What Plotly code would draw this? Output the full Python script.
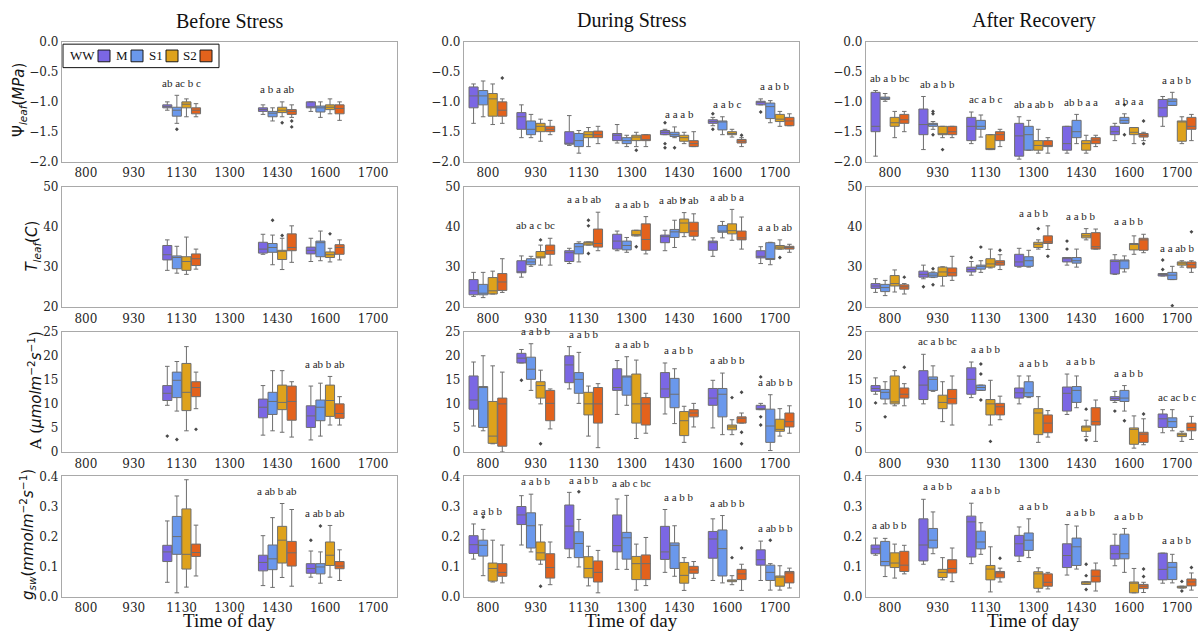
import plotly.graph_objects as go

W, H = 1198, 636

TIMES = ["800", "930", "1130", "1300", "1430", "1600", "1700"]
GROUPS = ["WW", "M", "S1", "S2"]
PHASES = ["Before Stress", "During Stress", "After Recovery"]
COLORS = {"WW": "#7b67e4", "M": "#6a98ec", "S1": "#dea21c", "S2": "#e3621c"}

# Five-number summaries per time of day:
# (lower whisker, Q1, median, Q3, upper whisker); None = not measured.

# ---- Leaf water potential (MPa) ----
PSI_BEFORE = {
    "WW": [None, None, (-1.14, -1.10, -1.08, -1.05, -1.00), None, (-1.21, -1.16, -1.13, -1.10, -1.05), (-1.16, -1.10, -1.09, -1.00, -1.00), None],
    "M":  [None, None, (-1.36, -1.24, -1.14, -1.09, -0.89), None, (-1.32, -1.25, -1.19, -1.16, -1.10), (-1.26, -1.17, -1.10, -1.07, -1.00), None],
    "S1": [None, None, (-1.25, -1.10, -1.04, -1.00, -0.95), None, (-1.25, -1.18, -1.14, -1.09, -1.00), (-1.20, -1.13, -1.09, -1.05, -0.95), None],
    "S2": [None, None, (-1.25, -1.20, -1.14, -1.10, -1.03), None, (-1.26, -1.21, -1.16, -1.13, -1.05), (-1.31, -1.20, -1.11, -1.05, -1.00), None],
}
PSI_BEFORE_OUT = [(2, "M", -1.46), (4, "S1", -1.35), (4, "S2", -1.32), (4, "S2", -1.42)]
PSI_BEFORE_LET = [None, None, "ab ac b c", None, "a b a ab", None, None]

PSI_DURING = {
    "WW": [(-1.36, -1.10, -0.90, -0.75, -0.70), (-1.60, -1.46, -1.25, -1.18, -1.05), (-1.73, -1.71, -1.70, -1.50, -1.23), (-1.69, -1.65, -1.56, -1.53, -1.38), (-1.55, -1.55, -1.51, -1.48, -1.46), (-1.40, -1.36, -1.33, -1.30, -1.26), (-1.05, -1.05, -1.00, -0.99, -0.95)],
    "M":  [(-1.25, -1.05, -0.90, -0.81, -0.65), (-1.60, -1.55, -1.46, -1.32, -1.21), (-1.86, -1.75, -1.65, -1.53, -1.48), (-1.75, -1.70, -1.65, -1.60, -1.56), (-1.60, -1.58, -1.55, -1.51, -1.42), (-1.55, -1.47, -1.33, -1.32, -1.25), (-1.35, -1.28, -1.08, -1.02, -0.98)],
    "S1": [(-1.38, -1.24, -0.95, -0.86, -0.70), (-1.66, -1.50, -1.41, -1.36, -1.29), (-1.75, -1.60, -1.55, -1.50, -1.43), (-1.75, -1.65, -1.59, -1.56, -1.51), (-1.70, -1.66, -1.60, -1.56, -1.51), (-1.59, -1.55, -1.53, -1.50, -1.46), (-1.41, -1.33, -1.29, -1.21, -1.16)],
    "S2": [(-1.36, -1.24, -1.14, -1.00, -0.95), (-1.55, -1.50, -1.46, -1.41, -1.31), (-1.70, -1.60, -1.55, -1.49, -1.41), (-1.75, -1.65, -1.65, -1.55, -1.55), (-1.75, -1.75, -1.70, -1.65, -1.50), (-1.75, -1.69, -1.66, -1.63, -1.60), (-1.40, -1.40, -1.32, -1.26, -1.20)],
}
PSI_DURING_OUT = [(0, "S2", -0.60), (3, "S1", -1.81), (4, "WW", -1.35), (4, "WW", -1.70), (4, "WW", -1.77),
                  (4, "M", -1.77), (5, "WW", -1.20), (5, "WW", -1.46), (5, "S2", -1.56), (6, "WW", -1.17)]
PSI_DURING_LET = [None, None, None, None, "a a a b", "a a b c", "a a b b"]

PSI_AFTER = {
    "WW": [(-1.91, -1.50, -1.41, -0.84, -0.81), (-1.80, -1.55, -1.38, -1.12, -0.91), (-1.70, -1.65, -1.41, -1.26, -1.17), (-1.96, -1.91, -1.57, -1.36, -1.25), (-1.86, -1.81, -1.70, -1.41, -1.41), (-1.65, -1.55, -1.50, -1.41, -1.36), (-1.41, -1.25, -1.10, -0.96, -0.91)],
    "M":  [(-0.99, -0.96, -0.94, -0.92, -0.86), (-1.46, -1.41, -1.37, -1.36, -1.33), (-1.59, -1.46, -1.41, -1.31, -1.22), (-1.81, -1.81, -1.55, -1.41, -1.31), (-1.70, -1.60, -1.50, -1.31, -1.21), (-1.36, -1.36, -1.31, -1.26, -1.20), (-1.06, -1.06, -0.99, -0.95, -0.84)],
    "S1": [(-1.60, -1.41, -1.35, -1.26, -1.16), (-1.60, -1.55, -1.55, -1.41, -1.41), (-1.80, -1.80, -1.80, -1.55, -1.55), (-1.86, -1.81, -1.73, -1.65, -1.46), (-1.86, -1.81, -1.70, -1.65, -1.56), (-1.70, -1.55, -1.51, -1.43, -1.43), (-1.70, -1.66, -1.32, -1.32, -1.25)],
    "S2": [(-1.50, -1.36, -1.30, -1.21, -1.16), (-1.60, -1.55, -1.50, -1.41, -1.41), (-1.75, -1.65, -1.55, -1.50, -1.46), (-1.86, -1.75, -1.74, -1.65, -1.60), (-1.75, -1.70, -1.64, -1.60, -1.56), (-1.65, -1.59, -1.56, -1.53, -1.51), (-1.65, -1.46, -1.41, -1.26, -1.21)],
}
PSI_AFTER_OUT = [(1, "M", -1.16), (1, "M", -1.20), (1, "M", -1.55), (1, "S1", -1.80), (5, "M", -1.05),
                 (5, "M", -1.55), (5, "S2", -1.32), (5, "S2", -1.70)]
PSI_AFTER_LET = ["ab a b bc", "ab a b b", "ac a b c", "ab a ab b", "ab b a a", "a b a a", "a a b b"]

# ---- Leaf temperature (C) ----
TLEAF_BEFORE = {
    "WW": [None, None, (29.2, 31.8, 33.1, 35.4, 36.8), None, (33.2, 33.5, 34.5, 36.2, 38.2), (31.4, 33.3, 34.2, 35.0, 37.2), None],
    "M":  [None, None, (28.5, 29.6, 32.4, 32.8, 35.2), None, (30.6, 33.7, 34.9, 35.9, 38.0), (31.6, 32.6, 36.1, 36.5, 39.0), None],
    "S1": [None, None, (28.2, 29.2, 31.4, 32.6, 37.5), None, (29.4, 31.9, 34.1, 34.2, 37.2), (31.3, 32.4, 33.1, 33.8, 34.7), None],
    "S2": [None, None, (29.5, 30.4, 32.1, 33.3, 34.5), None, (31.2, 34.1, 34.9, 38.3, 40.3), (31.8, 33.2, 34.9, 35.6, 36.8), None],
}
TLEAF_BEFORE_OUT = [(4, "M", 41.7), (4, "S1", 37.9), (5, "S1", 38.3)]
TLEAF_BEFORE_LET = [None] * 7

TLEAF_DURING = {
    "WW": [(22.7, 23.1, 24.1, 26.9, 28.7), (27.5, 28.6, 28.8, 31.6, 32.8), (30.9, 31.4, 33.6, 34.1, 34.7), (34.1, 34.5, 36.5, 38.2, 39.0), (34.1, 36.1, 37.6, 38.0, 39.2), (32.7, 34.2, 36.1, 36.5, 37.3), (30.9, 32.3, 32.7, 34.1, 35.1)],
    "M":  [(22.4, 23.1, 23.5, 25.7, 28.7), (30.2, 30.6, 31.3, 32.1, 32.7), (31.3, 33.3, 35.1, 35.9, 36.3), (33.7, 34.3, 35.4, 36.5, 37.4), (34.9, 37.4, 38.8, 39.4, 41.7), (37.3, 38.7, 39.0, 40.4, 41.4), (30.6, 31.9, 32.1, 36.1, 36.2)],
    "S1": [(23.3, 23.3, 24.1, 27.4, 29.0), (30.5, 32.3, 32.4, 33.9, 35.5), (35.5, 35.5, 36.1, 36.3, 36.3), (37.8, 37.8, 38.1, 39.2, 39.2), (37.6, 38.6, 41.0, 42.0, 43.6), (36.7, 38.3, 39.1, 40.8, 44.4), (34.5, 34.5, 35.0, 35.4, 36.8)],
    "S2": [(23.7, 24.2, 26.3, 28.4, 32.1), (30.5, 33.2, 34.1, 35.5, 37.2), (34.1, 35.0, 35.9, 39.5, 43.7), (33.3, 34.2, 36.9, 40.8, 42.6), (36.8, 37.7, 39.0, 41.2, 43.3), (34.5, 36.8, 37.3, 39.0, 42.5), (33.7, 34.5, 34.9, 35.2, 35.7)],
}
TLEAF_DURING_OUT = [(1, "S1", 36.8), (2, "S1", 41.7), (2, "S1", 40.3), (2, "S1", 33.4), (3, "S1", 35.1),
                    (4, "S1", 46.8), (6, "S1", 32.4)]
TLEAF_DURING_LET = [None, "ab a c bc", "a a b ab", "a a ab b", "a ab b ab", "a ab b a", "a a b ab"]

TLEAF_AFTER = {
    "WW": [(23.7, 24.7, 25.3, 25.9, 27.1), (27.1, 27.5, 28.2, 29.0, 30.5), (28.0, 28.8, 29.4, 30.0, 31.4), (30.0, 30.2, 31.3, 33.2, 34.7), (30.5, 31.3, 32.1, 32.4, 32.4), (28.2, 28.3, 31.4, 31.8, 33.1), (27.8, 27.8, 28.2, 28.4, 28.4)],
    "M":  [(22.9, 23.9, 24.9, 25.7, 26.7), (27.4, 27.5, 28.0, 28.6, 28.8), (28.7, 29.5, 30.2, 30.5, 31.6), (30.0, 30.2, 31.6, 32.6, 34.2), (30.0, 31.0, 31.6, 32.4, 34.5), (28.8, 29.6, 31.8, 31.8, 32.8), (26.9, 26.9, 28.0, 28.7, 30.2)],
    "S1": [(23.8, 25.3, 25.9, 27.9, 29.3), (25.3, 27.7, 28.8, 30.0, 30.1), (29.8, 30.0, 30.8, 32.1, 34.5), (34.5, 34.9, 35.7, 36.2, 36.8), (36.8, 37.3, 37.8, 38.4, 39.6), (33.2, 34.3, 35.7, 35.9, 37.8), (30.0, 30.5, 31.0, 31.3, 31.6)],
    "S2": [(23.3, 24.5, 25.1, 25.6, 25.9), (26.7, 27.8, 28.6, 29.8, 32.7), (29.4, 30.5, 31.1, 31.6, 33.1), (34.4, 35.9, 36.3, 37.8, 40.3), (34.5, 34.5, 35.1, 38.6, 39.5), (33.6, 34.2, 36.8, 37.2, 38.2), (28.7, 29.8, 30.6, 31.3, 31.6)],
}
TLEAF_AFTER_OUT = [(0, "S2", 27.5), (1, "WW", 25.1), (1, "M", 29.6), (1, "M", 25.6), (2, "WW", 32.4), (2, "M", 35.0),
                   (2, "S2", 34.2), (3, "S1", 39.6), (3, "S2", 32.7), (4, "WW", 36.5), (4, "WW", 34.5),
                   (6, "WW", 31.8), (6, "WW", 29.4), (6, "M", 20.4), (6, "S2", 38.8)]
TLEAF_AFTER_LET = [None, None, None, "a a b b", "a a b b", "a a b b", "a a ab b"]

# ---- Net assimilation (umol m-2 s-1) ----
A_BEFORE = {
    "WW": [None, None, (9.7, 10.7, 12.2, 13.8, 17.8), None, (3.5, 7.1, 9.3, 11.0, 13.8), (2.5, 5.1, 7.5, 9.6, 13.7), None],
    "M":  [None, None, (8.5, 11.3, 14.9, 16.6, 18.8), None, (4.4, 7.8, 10.5, 12.4, 16.9), (3.3, 6.5, 9.3, 10.8, 14.3), None],
    "S1": [None, None, (4.4, 8.6, 12.4, 18.4, 21.9), None, (4.1, 8.8, 10.3, 13.9, 16.9), (5.6, 7.4, 10.7, 13.9, 15.7), None],
    "S2": [None, None, (9.0, 11.5, 13.4, 14.6, 16.6), None, (3.1, 6.6, 10.5, 13.7, 14.6), (5.6, 7.0, 8.0, 10.0, 11.5), None],
}
A_BEFORE_OUT = [(2, "WW", 3.3), (2, "M", 2.6), (2, "S2", 4.7)]
A_BEFORE_LET = [None, None, None, None, None, "a ab b ab", None]

A_DURING = {
    "WW": [(5.4, 8.9, 10.8, 15.8, 18.7), (18.5, 18.5, 19.5, 20.5, 21.3), (13.1, 14.4, 18.1, 20.0, 21.9), (7.8, 12.8, 13.4, 17.3, 19.0), (7.9, 11.3, 13.1, 16.5, 18.5), (5.0, 9.7, 11.2, 13.2, 14.9), (8.8, 8.8, 9.0, 9.7, 10.1)],
    "M":  [(4.4, 5.1, 13.5, 13.6, 20.0), (12.8, 15.1, 17.2, 19.7, 22.5), (10.1, 12.2, 15.1, 16.5, 20.7), (9.7, 11.8, 15.7, 15.8, 19.8), (5.9, 9.2, 12.0, 15.3, 17.3), (3.6, 7.3, 12.0, 13.2, 16.4), (0.3, 2.0, 5.4, 8.9, 11.9)],
    "S1": [(1.7, 1.8, 3.3, 10.5, 17.9), (10.0, 11.2, 13.8, 14.6, 17.0), (3.3, 7.7, 10.0, 12.4, 13.7), (2.8, 6.0, 10.0, 16.2, 19.1), (2.0, 3.4, 6.5, 8.4, 9.5), (3.6, 4.6, 5.2, 5.6, 6.7), (3.3, 4.3, 4.7, 6.8, 9.0)],
    "S2": [(0.0, 1.2, 10.0, 11.2, 16.6), (4.8, 6.5, 10.1, 12.8, 13.1), (0.9, 6.0, 10.0, 13.4, 14.2), (3.9, 5.6, 10.0, 11.3, 12.2), (5.2, 7.3, 8.1, 8.8, 10.1), (6.0, 6.0, 7.0, 7.3, 8.1), (3.9, 5.2, 6.3, 8.1, 9.6)],
}
A_DURING_OUT = [(1, "WW", 14.9), (1, "S1", 1.7), (5, "S1", 11.3), (5, "S2", 12.4), (5, "S2", 4.1), (5, "S2", 1.7),
                (6, "WW", 15.6), (6, "WW", 7.3), (6, "WW", 5.6)]
A_DURING_LET = [None, "a a b b", "a a b b", "a a ab b", "a a b b", "a ab b b", "a ab b b"]

A_AFTER = {
    "WW": [(12.0, 12.6, 13.2, 13.8, 15.4), (10.0, 10.9, 13.9, 16.9, 20.3), (11.3, 12.0, 15.1, 17.5, 18.7), (10.0, 11.2, 12.3, 13.3, 15.8), (7.8, 8.5, 12.2, 13.5, 16.2), (10.3, 10.7, 11.1, 11.5, 12.6), (4.0, 5.1, 6.9, 7.9, 8.8)],
    "M":  [(10.0, 11.0, 12.4, 13.0, 14.6), (12.6, 12.8, 15.1, 15.6, 17.9), (12.8, 12.8, 13.4, 13.9, 13.9), (11.3, 11.5, 12.3, 14.6, 15.8), (9.2, 10.3, 12.8, 13.6, 15.8), (8.5, 10.5, 11.2, 12.8, 13.8), (4.4, 5.1, 6.3, 7.1, 8.8)],
    "S1": [(9.6, 10.0, 10.4, 15.8, 16.9), (6.3, 9.0, 10.3, 11.8, 14.6), (5.6, 7.7, 10.0, 10.9, 14.9), (2.0, 3.6, 8.1, 9.0, 11.5), (3.2, 4.3, 5.2, 5.4, 6.6), (0.8, 1.6, 4.7, 5.0, 7.5), (2.2, 3.2, 3.6, 3.9, 4.3)],
    "S2": [(9.6, 11.2, 12.0, 13.3, 14.2), (5.6, 10.0, 11.1, 13.0, 15.8), (6.7, 7.7, 9.4, 10.1, 11.6), (3.1, 4.0, 6.0, 7.7, 8.6), (2.2, 5.6, 6.3, 9.2, 10.8), (1.5, 2.0, 3.7, 4.1, 6.9), (2.6, 4.4, 5.1, 6.0, 7.4)],
}
A_AFTER_OUT = [(0, "WW", 10.2), (0, "M", 7.3), (0, "S2", 17.6), (2, "M", 18.3), (2, "M", 16.2), (2, "M", 10.8),
               (2, "S1", 2.2), (4, "S1", 8.9), (4, "S1", 2.5), (5, "WW", 8.5), (5, "M", 6.5), (5, "S2", 7.9)]
A_AFTER_LET = [None, "ac a b bc", "a a b b", "a a b b", "a a b b", "a a b b", "ac ac b c"]

# ---- Stomatal conductance (mmol m-2 s-1) ----
GSW_BEFORE = {
    "WW": [None, None, (0.048, 0.117, 0.149, 0.171, 0.252), None, (0.037, 0.086, 0.114, 0.138, 0.203), (0.065, 0.078, 0.094, 0.110, 0.152), None],
    "M":  [None, None, (0.013, 0.141, 0.200, 0.267, 0.335), None, (0.031, 0.090, 0.126, 0.172, 0.263), (0.045, 0.076, 0.099, 0.110, 0.149), None],
    "S1": [None, None, (0.032, 0.092, 0.141, 0.292, 0.389), None, (0.064, 0.112, 0.188, 0.234, 0.310), (0.065, 0.104, 0.138, 0.182, 0.237), None],
    "S2": [None, None, (0.069, 0.134, 0.147, 0.175, 0.238), None, (0.035, 0.102, 0.146, 0.184, 0.290), (0.054, 0.093, 0.102, 0.117, 0.156), None],
}
GSW_BEFORE_OUT = [(5, "WW", 0.188), (5, "M", 0.235)]
GSW_BEFORE_LET = [None, None, None, None, "a ab b ab", "a ab b ab", None]

GSW_DURING = {
    "WW": [(0.125, 0.144, 0.173, 0.203, 0.242), (0.172, 0.240, 0.272, 0.300, 0.336), (0.130, 0.159, 0.235, 0.305, 0.347), (0.091, 0.149, 0.170, 0.272, 0.325), (0.081, 0.124, 0.149, 0.234, 0.290), (0.054, 0.128, 0.192, 0.217, 0.259), (0.054, 0.105, 0.123, 0.156, 0.185)],
    "M":  [(0.070, 0.135, 0.171, 0.188, 0.224), (0.149, 0.162, 0.236, 0.279, 0.341), (0.099, 0.130, 0.177, 0.216, 0.257), (0.091, 0.125, 0.196, 0.214, 0.337), (0.068, 0.094, 0.171, 0.179, 0.236), (0.046, 0.069, 0.160, 0.222, 0.270), (0.022, 0.054, 0.081, 0.105, 0.110)],
    "S1": [(0.049, 0.052, 0.094, 0.112, 0.188), (0.108, 0.122, 0.146, 0.182, 0.239), (0.036, 0.063, 0.094, 0.133, 0.168), (0.022, 0.057, 0.110, 0.134, 0.175), (0.021, 0.045, 0.071, 0.114, 0.130), (0.040, 0.050, 0.053, 0.056, 0.070), (0.022, 0.035, 0.065, 0.069, 0.103)],
    "S2": [(0.046, 0.068, 0.081, 0.110, 0.172), (0.040, 0.062, 0.097, 0.143, 0.182), (0.013, 0.049, 0.081, 0.119, 0.154), (0.037, 0.057, 0.110, 0.139, 0.197), (0.061, 0.078, 0.089, 0.101, 0.117), (0.021, 0.057, 0.076, 0.091, 0.108), (0.029, 0.046, 0.079, 0.084, 0.095)],
}
GSW_DURING_OUT = [(0, "M", 0.265), (1, "S1", 0.035), (2, "M", 0.349), (5, "S1", 0.130), (5, "S2", 0.162), (6, "M", 0.188)]
GSW_DURING_LET = ["a a b b", "a a b b", "a a b b", "a ab c bc", "a a b b", "a ab b b", "a ab b b"]

GSW_AFTER = {
    "WW": [(0.138, 0.143, 0.159, 0.172, 0.195), (0.108, 0.119, 0.172, 0.259, 0.324), (0.110, 0.132, 0.249, 0.268, 0.311), (0.117, 0.135, 0.176, 0.204, 0.232), (0.072, 0.097, 0.137, 0.176, 0.240), (0.103, 0.125, 0.143, 0.171, 0.208), (0.045, 0.056, 0.091, 0.145, 0.145)],
    "M":  [(0.067, 0.103, 0.117, 0.184, 0.194), (0.143, 0.162, 0.188, 0.227, 0.282), (0.141, 0.159, 0.182, 0.218, 0.246), (0.130, 0.154, 0.188, 0.212, 0.259), (0.092, 0.104, 0.166, 0.195, 0.235), (0.081, 0.126, 0.143, 0.208, 0.227), (0.046, 0.057, 0.098, 0.114, 0.141)],
    "S1": [(0.062, 0.097, 0.112, 0.146, 0.175), (0.056, 0.064, 0.081, 0.091, 0.130), (0.016, 0.056, 0.092, 0.104, 0.166), (0.016, 0.028, 0.076, 0.083, 0.096), (0.041, 0.041, 0.048, 0.050, 0.050), (0.013, 0.013, 0.045, 0.049, 0.094), (0.029, 0.029, 0.032, 0.035, 0.035)],
    "S2": [(0.076, 0.084, 0.105, 0.151, 0.171), (0.050, 0.079, 0.094, 0.123, 0.162), (0.049, 0.063, 0.079, 0.084, 0.095), (0.026, 0.035, 0.048, 0.076, 0.081), (0.019, 0.049, 0.068, 0.089, 0.112), (0.014, 0.027, 0.035, 0.041, 0.048), (0.022, 0.036, 0.049, 0.059, 0.079)],
}
GSW_AFTER_OUT = [(2, "S2", 0.128), (4, "S1", 0.108), (4, "S1", 0.070), (4, "S1", 0.024), (5, "S2", 0.092),
                 (5, "S2", 0.067), (6, "S1", 0.051), (6, "S1", 0.019), (6, "S2", 0.097)]
GSW_AFTER_LET = ["a ab b b", "a a b b", "a a b b", "a a b b", "a a b b", "a a b b", "a a b b"]

ROWS = [
    [(PSI_BEFORE, PSI_BEFORE_OUT, PSI_BEFORE_LET), (PSI_DURING, PSI_DURING_OUT, PSI_DURING_LET), (PSI_AFTER, PSI_AFTER_OUT, PSI_AFTER_LET)],
    [(TLEAF_BEFORE, TLEAF_BEFORE_OUT, TLEAF_BEFORE_LET), (TLEAF_DURING, TLEAF_DURING_OUT, TLEAF_DURING_LET), (TLEAF_AFTER, TLEAF_AFTER_OUT, TLEAF_AFTER_LET)],
    [(A_BEFORE, A_BEFORE_OUT, A_BEFORE_LET), (A_DURING, A_DURING_OUT, A_DURING_LET), (A_AFTER, A_AFTER_OUT, A_AFTER_LET)],
    [(GSW_BEFORE, GSW_BEFORE_OUT, GSW_BEFORE_LET), (GSW_DURING, GSW_DURING_OUT, GSW_DURING_LET), (GSW_AFTER, GSW_AFTER_OUT, GSW_AFTER_LET)],
]

# y-axis settings per row: range, tick step, tick format
Y_AXES = [([-2.0, 0.0], 0.5, ".1f"), ([20, 50], 10, "d"), ([0, 25], 5, "d"), ([0.0, 0.4], 0.1, ".1f")]
Y_TITLES = [
    "Ψ<sub><i>leaf</i></sub>(<i>MPa</i>)",
    "<i>T</i><sub><i>leaf</i></sub>(<i>C</i>)",
    '<span style="font-family:DejaVu Serif">A (</span><i>μmolm</i><sup>−2</sup><i>s</i><sup>−1</sup>)',
    "<i>g</i><sub><i>sw</i></sub>(<i>mmolm</i><sup>−2</sup><i>s</i><sup>−1</sup>)",
]

# ---- page geometry in pixels ----
COL_PX = [(62, 397), (464, 799), (866, 1198)]
COL_FULL_W = 335                      # full panel width (last column runs off the page)
ROW_PX = [(36, 158), (184, 307), (332, 455), (480, 603)]
YTITLE_PX = [(20, 95), (33, 245), (35, 393), (27, 540)]

EDGE = "#6e6e6e"
FRAME = "#a9a9a9"
SERIF = "Liberation Serif, Times New Roman, serif"
TICKFONT = dict(family="DejaVu Serif, serif", size=12, color="#262626")

BOX_SPAN = 0.8
n_g = len(GROUPS)
OFFSETS = [-BOX_SPAN / 2 + BOX_SPAN / n_g * (i + 0.5) for i in range(n_g)]
BOX_W = BOX_SPAN / n_g * 0.95


def px_x(p):
    return p / W


def px_y(p):
    return 1 - p / H


fig = go.Figure()
annotations = []
layout = {}

for r, row in enumerate(ROWS):
    yrange, dtick, fmt = Y_AXES[r]
    span = yrange[1] - yrange[0]
    for c, (data, outliers, letters) in enumerate(row):
        k = r * 3 + c + 1
        xs = "x" if k == 1 else f"x{k}"
        ys = "y" if k == 1 else f"y{k}"

        for gi, g in enumerate(GROUPS):
            pos, lo, q1, med, q3, hi = [], [], [], [], [], []
            for t, stats in enumerate(data[g]):
                if stats is None:
                    continue
                pos.append(t + OFFSETS[gi])
                lo.append(stats[0]); q1.append(stats[1]); med.append(stats[2])
                q3.append(stats[3]); hi.append(stats[4])
            if not pos:
                continue
            fig.add_trace(go.Box(
                x=pos, lowerfence=lo, q1=q1, median=med, q3=q3, upperfence=hi,
                orientation="v", width=BOX_W, whiskerwidth=0.5,
                fillcolor=COLORS[g], line=dict(color=EDGE, width=1),
                boxpoints=False, showlegend=False, hoverinfo="skip",
                xaxis=xs, yaxis=ys, name=g,
            ))

        if outliers:
            fig.add_trace(go.Scatter(
                x=[t + OFFSETS[GROUPS.index(g)] for t, g, v in outliers],
                y=[v for t, g, v in outliers],
                mode="markers",
                marker=dict(symbol="diamond", size=3, color="#4a4a4a"),
                showlegend=False, hoverinfo="skip", xaxis=xs, yaxis=ys,
            ))

        # significance letters above each time group
        for t, txt in enumerate(letters):
            if not txt:
                continue
            top = max(data[g][t][4] for g in GROUPS if data[g][t] is not None)
            annotations.append(dict(
                x=t, y=top + 0.04 * span, xref=xs, yref=ys, text=txt,
                showarrow=False, xanchor="center", yanchor="bottom",
                font=dict(family=SERIF, size=11, color="#1e1e1e"),
            ))

        x0, x1 = COL_PX[c]
        y0, y1 = ROW_PX[r]
        xmax = -0.5 + 7 * (x1 - x0) / COL_FULL_W
        layout["xaxis" if k == 1 else f"xaxis{k}"] = dict(
            domain=[px_x(x0), px_x(x1)], anchor=ys, range=[-0.5, xmax],
            tickmode="array", tickvals=list(range(len(TIMES))), ticktext=TIMES,
            showline=True, mirror=True, linecolor=FRAME, linewidth=1.3,
            showgrid=False, zeroline=False, ticks="", tickfont=TICKFONT,
        )
        layout["yaxis" if k == 1 else f"yaxis{k}"] = dict(
            domain=[px_y(y1), px_y(y0)], anchor=xs, range=yrange,
            tickmode="linear", tick0=yrange[0], dtick=dtick, tickformat=fmt,
            showline=True, mirror=(c < 2), linecolor=FRAME, linewidth=1.3,
            showgrid=False, zeroline=False, ticks="", tickfont=TICKFONT,
        )

# column titles and x-axis titles
for c, title in enumerate(PHASES):
    x0 = COL_PX[c][0]
    cx = x0 + COL_FULL_W / 2
    annotations.append(dict(x=px_x(cx), y=px_y(14), xref="paper", yref="paper", text=title,
                            showarrow=False, xanchor="center", yanchor="middle",
                            font=dict(family=SERIF, size=20, color="#111")))
    annotations.append(dict(x=px_x(cx), y=px_y(627), xref="paper", yref="paper", text="Time of day",
                            showarrow=False, xanchor="center", yanchor="middle",
                            font=dict(family=SERIF, size=19, color="#111")))

# y-axis titles
for r, txt in enumerate(Y_TITLES):
    px, py = YTITLE_PX[r]
    annotations.append(dict(x=px_x(px), y=px_y(py), xref="paper", yref="paper", text=txt,
                            textangle=-90, showarrow=False, xanchor="center", yanchor="middle",
                            font=dict(family="DejaVu Sans", size=15, color="#111")))

# legend box (label followed by a colour swatch)
shapes = [dict(type="rect", xref="paper", yref="paper", x0=px_x(63), x1=px_x(219), y0=px_y(62), y1=px_y(38),
               line=dict(color="#111", width=1), fillcolor="white", layer="above")]
LEG_TEXT_END = [97, 130, 165, 199]
for gi, g in enumerate(GROUPS):
    te = LEG_TEXT_END[gi]
    annotations.append(dict(x=px_x(te), y=px_y(50), xref="paper", yref="paper", text=g, showarrow=False,
                            xanchor="right", yanchor="middle",
                            font=dict(family=SERIF, size=13, color="#111")))
    shapes.append(dict(type="rect", xref="paper", yref="paper", x0=px_x(te + 1), x1=px_x(te + 13),
                       y0=px_y(56), y1=px_y(44), line=dict(color="#1a1a1a", width=1),
                       fillcolor=COLORS[g], layer="above"))

fig.update_layout(
    width=W, height=H, margin=dict(l=0, r=0, t=0, b=0, pad=0),
    paper_bgcolor="white", plot_bgcolor="white",
    showlegend=False, boxmode="overlay",
    annotations=annotations, shapes=shapes, **layout,
)

fig.write_html("out.html")
